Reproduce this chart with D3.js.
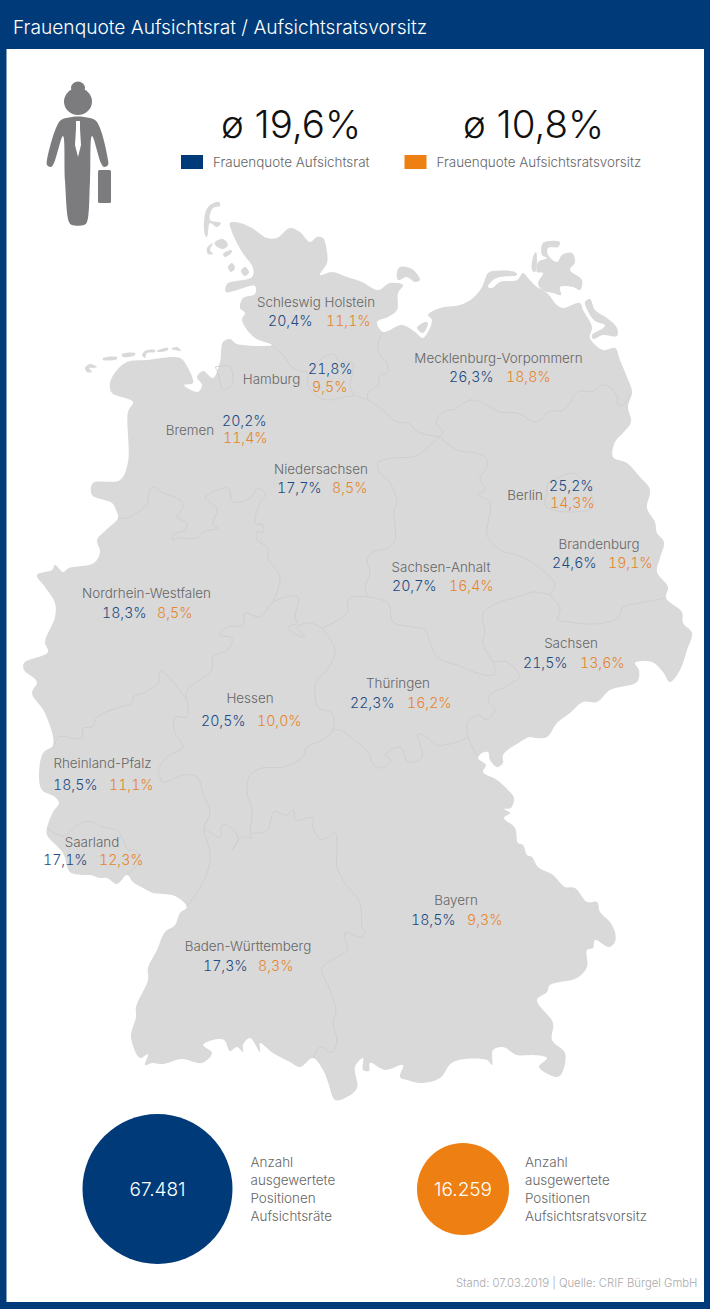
<!DOCTYPE html>
<html><head><meta charset="utf-8">
<style>html,body{margin:0;padding:0;background:#003a78}svg{display:block}
text{font-family:Inter,"Liberation Sans",sans-serif;font-weight:300}
text.val{font-feature-settings:"tnum" 1;font-variant-numeric:tabular-nums}</style>
<script src="https://cdnjs.cloudflare.com/ajax/libs/d3/7.8.5/d3.min.js"></script>
</head><body><svg id="c" width="710" height="1309"></svg>
<script>
// ---------- values ----------
const title = "Frauenquote Aufsichtsrat / Aufsichtsratsvorsitz";
const seriesNames = ["Frauenquote Aufsichtsrat","Frauenquote Aufsichtsratsvorsitz"];
const averages = [19.6,10.8];
const positionCounts = [67481,16259];
const positionLabels = [["Anzahl","ausgewertete","Positionen","Aufsichtsräte"],["Anzahl","ausgewertete","Positionen","Aufsichtsratsvorsitz"]];
const source = "Stand: 07.03.2019 | Quelle: CRIF Bürgel GmbH";
const states = ["Schleswig Holstein","Mecklenburg-Vorpommern","Hamburg","Bremen","Niedersachsen","Berlin","Brandenburg","Sachsen-Anhalt","Nordrhein-Westfalen","Sachsen","Hessen","Thüringen","Rheinland-Pfalz","Saarland","Baden-Württemberg","Bayern"];
const boardQuota = [20.4,26.3,21.8,20.2,17.7,25.2,24.6,20.7,18.3,21.5,20.5,22.3,18.5,17.1,17.3,18.5];
const chairQuota = [11.1,18.8,9.5,11.4,8.5,14.3,19.1,16.4,8.5,13.6,10.0,16.2,11.1,12.3,8.3,9.3];

// ---------- map geometry (traced outline, in map units) ----------
const mainland = [[230,223],[240,223],[252,228],[267,238],[277,238],[290,228],[300,232],[310,242],[317,237],[323,238],[327,252],[327,263],[320,275],[332,272],[347,277],[362,282],[378,290],[390,283],[403,285],[398,293],[397,310],[388,317],[377,322],[383,332],[402,325],[415,332],[423,338],[432,320],[428,315],[440,308],[460,305],[473,298],[482,287],[488,273],[493,271],[515,272],[517,275],[500,277],[493,280],[488,287],[492,288],[500,282],[517,280],[523,273],[528,278],[537,287],[547,293],[557,305],[563,308],[580,303],[583,310],[592,327],[590,338],[603,350],[615,348],[620,360],[627,377],[631,387],[632,393],[628,407],[631,422],[623,433],[615,442],[613,457],[627,463],[640,477],[649,487],[650,493],[647,508],[655,522],[657,533],[664,542],[660,558],[657,572],[668,587],[666,598],[682,612],[683,623],[692,633],[687,650],[680,670],[670,682],[663,672],[652,662],[635,663],[639,670],[637,682],[610,690],[597,702],[583,702],[570,713],[557,723],[547,737],[535,738],[530,737],[520,742],[503,755],[503,763],[497,767],[490,760],[488,752],[482,753],[478,758],[486,765],[483,772],[497,780],[510,792],[514,798],[511,808],[504,809],[510,813],[504,818],[515,828],[518,843],[523,845],[527,855],[532,857],[538,867],[553,875],[565,887],[575,888],[587,902],[597,902],[600,912],[610,922],[615,932],[615,942],[609,947],[595,940],[593,948],[587,950],[587,967],[577,978],[550,985],[547,992],[537,1000],[553,1023],[552,1040],[565,1053],[562,1073],[557,1077],[539,1067],[547,1058],[533,1055],[517,1055],[503,1047],[493,1050],[492,1065],[487,1060],[453,1062],[440,1078],[422,1083],[407,1080],[400,1077],[403,1065],[385,1070],[370,1063],[369,1071],[363,1070],[363,1058],[355,1067],[357,1088],[345,1098],[335,1100],[328,1082],[323,1070],[313,1058],[300,1067],[290,1062],[273,1053],[260,1043],[260,1052],[250,1038],[243,1045],[243,1052],[237,1047],[230,1051],[224,1040],[213,1040],[203,1045],[212,1053],[202,1063],[182,1059],[163,1064],[152,1063],[145,1065],[148,1054],[140,1058],[131,1037],[136,1017],[136,1007],[148,980],[148,968],[157,950],[165,932],[175,925],[180,913],[187,907],[175,896],[163,894],[153,893],[143,888],[133,882],[127,875],[117,884],[107,878],[100,878],[90,875],[82,875],[70,872],[63,853],[47,835],[47,828],[53,812],[59,803],[55,797],[42,790],[39,777],[43,753],[53,745],[45,713],[32,693],[37,682],[24,670],[24,663],[48,652],[45,642],[55,617],[55,603],[45,587],[37,575],[52,570],[55,565],[63,572],[69,568],[94,563],[100,552],[97,540],[106,530],[118,518],[116,510],[112,503],[92,495],[93,483],[120,480],[128,462],[128,412],[133,402],[112,393],[110,383],[117,370],[127,362],[147,360],[180,358],[188,368],[193,383],[184,385],[198,392],[202,385],[197,377],[203,371],[213,378],[220,362],[223,342],[230,339],[237,344],[272,345],[255,338],[245,327],[242,319],[245,313],[240,308],[243,298],[255,294],[255,286],[226,292],[227,284],[252,277],[253,268],[242,252],[232,232]];
const islands = [
 [[205,235],[204,222],[208,207],[219,202],[220,206],[213,208],[210,220],[221,223],[217,227],[210,223],[207,237]],
 [[215,242],[223,239],[228,245],[223,249],[215,245]],
 [[213,243],[207,248],[208,254],[213,254],[210,250]],
 [[223,254],[231,250],[232,252],[225,257]],
 [[228,267],[232,263],[235,268],[231,272]],
 [[241,271],[245,267],[249,272],[245,276]],
 [[85,368],[90,364],[97,367],[93,368],[89,368],[92,372],[87,372]],
 [[103,358],[117,357],[117,359],[103,360]],
 [[122,354],[135,353],[135,355],[123,357]],
 [[142,355],[145,351],[155,350],[155,352],[147,353],[145,358]],
 [[157,351],[168,348],[168,350],[158,352]],
 [[171,349],[177,347],[181,351],[175,350]],
 [[397,272],[400,267],[412,269],[420,280],[415,282],[407,277],[398,280]],
 [[417,328],[425,322],[428,323],[423,333]],
 [[532,270],[533,257],[536,252],[537,262],[535,272]],
 [[543,243],[560,242],[558,247],[548,248],[548,255],[557,262],[562,255],[572,253],[575,262],[570,270],[582,280],[580,290],[573,287],[560,287],[561,295],[553,293],[542,290],[538,283],[543,273],[537,272],[538,262],[547,258],[542,255]],
 [[585,302],[590,299],[595,310],[607,318],[617,328],[617,336],[603,335],[593,339],[592,335],[603,328],[605,325],[597,322],[592,318]]
];
const borders = [
 [[272,345],[283,355],[293,368],[307,372]],
 [[308,375],[317,362],[333,354],[340,362],[352,362],[353,372],[350,385],[353,395],[343,397],[327,400],[315,395],[308,385],[308,375]],
 [[383,332],[378,345],[380,355],[387,363],[387,373],[380,375],[378,385],[368,393],[368,400]],
 [[353,395],[368,400],[383,410],[397,422],[408,423],[418,432],[440,437]],
 [[440,437],[443,432],[436,423],[437,418],[448,410],[453,410],[470,400],[483,403],[500,412],[517,413],[530,420],[535,422],[543,418],[548,412],[563,410],[570,403],[577,392],[593,391],[602,385],[610,387],[617,397],[618,405],[623,405],[630,395]],
 [[440,437],[428,447],[423,452],[412,457],[393,458],[378,463],[380,473],[390,483],[397,503],[394,510],[395,540],[388,548],[372,552],[367,560],[370,573],[365,587],[368,597]],
 [[440,437],[457,450],[475,453],[486,458],[487,467],[480,478],[485,490],[478,495],[490,502],[488,523],[487,535],[500,550],[517,555],[533,563],[550,577],[555,585],[550,595]],
 [[550,595],[560,608],[558,620],[570,622],[587,624],[603,623],[618,618],[623,607],[640,603],[666,598]],
 [[550,595],[533,592],[517,597],[500,602],[483,613],[485,633],[483,643],[493,662]],
 [[368,597],[388,603],[393,622],[413,627],[425,630],[430,643],[438,658],[457,665],[477,673],[493,675],[495,670],[493,662]],
 [[493,662],[507,662],[520,677],[513,682],[503,688],[492,693],[488,700],[495,710],[485,720],[480,715],[468,722],[468,737],[478,757]],
 [[468,737],[457,742],[437,745],[428,738],[418,734],[422,757],[408,762],[400,747],[385,755],[391,760],[383,768],[372,763],[370,755],[352,738],[340,730],[333,730]],
 [[322,628],[335,650],[327,670],[316,682],[318,707],[332,713],[333,730],[322,740],[307,747],[303,757],[283,767],[262,768],[250,775],[247,793],[252,810],[250,832]],
 [[252,833],[267,831],[274,812],[287,815],[293,810],[296,820],[307,818],[313,818],[313,828],[322,840],[335,833],[337,843],[337,867],[345,883],[360,903],[362,927],[365,932],[362,937],[345,933],[347,950],[337,957],[322,968],[330,990],[336,1010],[333,1023],[337,1040],[332,1052],[320,1047],[313,1058]],
 [[204,828],[220,837],[222,825],[227,825],[238,838],[232,850],[242,837],[252,838],[250,832]],
 [[158,770],[163,782],[183,775],[197,777],[203,793],[210,813],[204,828],[210,853],[208,870],[197,893],[186,907]],
 [[187,700],[187,717],[175,717],[175,733],[183,747],[167,757],[158,770]],
 [[187,700],[177,687],[167,675],[160,671],[158,683],[143,693],[133,697],[132,703],[117,708],[97,717],[92,727],[83,728],[82,738],[58,737],[55,745]],
 [[187,700],[187,690],[212,670],[213,657],[228,650],[232,638],[220,635],[227,627],[243,625],[245,613],[260,617],[273,602],[298,597],[295,617],[297,623],[288,627],[297,635],[305,637],[297,627],[310,623],[322,628]],
 [[273,602],[280,577],[268,558],[268,548],[257,540],[257,532],[263,532],[263,525],[255,523],[260,503],[265,495],[258,488],[250,498],[233,502],[228,488],[205,498],[217,508],[213,525],[218,528],[203,532],[197,538],[178,538],[173,540],[173,535],[185,530],[187,523],[177,517],[183,507],[180,500],[163,493],[153,487],[148,497],[148,503],[127,518],[118,518]],
 [[322,628],[347,613],[348,600],[353,597],[368,597]],
 [[215,367],[230,367],[232,385],[223,390],[220,382],[218,373],[215,367]],
 [[547,493],[548,483],[560,477],[573,473],[583,480],[593,500],[592,508],[573,512],[553,510],[545,505],[547,493]],
 [[47,828],[63,836],[77,825],[90,821],[103,827],[117,830],[123,840],[128,850],[135,850],[140,860],[127,875]]
];

// ---------- icon geometry ----------
const figureBody = [[72,117],[84,117],[95,120],[100,128],[108,160],[108,165],[104,167],[101,163],[92,136],[90,181],[87,222],[84,225],[72,225],[69,222],[65,181],[63,136],[54,163],[51,167],[47,165],[47,160],[56,128],[61,120]];
const figureTie = [[76,121],[80,121],[80,129],[81,145],[78,157],[75,145],[76,129]];

// ---------- label placement ----------
const labelPlacement = [
 {n:[316,307],b:[268,326],o:[326,326]},{n:[498.5,363],b:[449,382],o:[506,382]},
 {n:[271.5,384],b:[308,374],o:[312,392]},{n:[190,435],b:[222,426],o:[223,443]},
 {n:[321,474],b:[277,493],o:[332,493]},{n:[525,500],b:[549,491],o:[550,508]},
 {n:[599,549],b:[552,568],o:[608,568]},{n:[441,572],b:[392,591],o:[449,591]},
 {n:[146.5,598],b:[102,618],o:[157,618]},{n:[571,648],b:[523,668],o:[580,668]},
 {n:[250,703],b:[201,726],o:[257,726]},{n:[398,688],b:[350,708],o:[407,708]},
 {n:[102.5,768],b:[53,790],o:[109,790]},{n:[92,847],b:[43,865],o:[99,865]},
 {n:[248,951],b:[203,971],o:[258,971]},{n:[456,905],b:[411,925],o:[467,925]}
];

const NAVY="#003a78", ORANGE="#ee7f12", LAND="#d9d9d9", LINE="#cbcbcb", GREY="#666", FIG="#7c7c7e";
const fmt = v => v.toFixed(1).replace(".",",")+"%";
const svg = d3.select("#c");
const closedShape = d3.line().curve(d3.curveCatmullRomClosed.alpha(.5));
const openShape = d3.line().curve(d3.curveCatmullRom.alpha(.5));
const straightShape = d3.line().curve(d3.curveLinearClosed);

svg.append("rect").attr("width",710).attr("height",1309).attr("fill",NAVY);
svg.append("rect").attr("x",6.5).attr("y",49).attr("width",697.5).attr("height",1253).attr("fill","#fff");
svg.append("text").attr("x",13).attr("y",33.5).attr("fill","#fff").attr("font-size",19.15).text(title);

// icon
svg.append("ellipse").attr("cx",78).attr("cy",88).attr("rx",7).attr("ry",6.5).attr("fill",FIG);
svg.append("ellipse").attr("cx",78).attr("cy",101.5).attr("rx",14).attr("ry",13.5).attr("fill",FIG);
svg.append("path").attr("fill",FIG).attr("d",closedShape(figureBody));
svg.append("path").attr("fill","#fff").attr("d",straightShape(figureTie));
svg.append("rect").attr("x",98).attr("y",170).attr("width",13).attr("height",33).attr("rx",1.5).attr("fill",FIG);

// averages + legend
const avgX=[291,533.5], swX=[181,404.5], legX=[213,436.5];
[NAVY,ORANGE].forEach((col,i)=>{
  svg.append("text").attr("x",avgX[i]).attr("y",138).attr("text-anchor","middle").attr("font-size",38.5).attr("fill","#111").text("ø "+fmt(averages[i]));
  svg.append("rect").attr("x",swX[i]).attr("y",155).attr("width",22).attr("height",14).attr("fill",col);
  svg.append("text").attr("x",legX[i]).attr("y",167).attr("font-size",13.45).attr("fill",GREY).text(seriesNames[i]);
});

// map
svg.append("g").attr("fill",LAND).selectAll("path").data([mainland,...islands]).join("path").attr("d",closedShape);
svg.append("g").attr("fill","none").attr("stroke",LINE).attr("stroke-width",.8).selectAll("path").data(borders).join("path").attr("d",openShape);

// state labels
const g = svg.append("g").selectAll("g").data(states).join("g");
g.append("text").attr("x",(d,i)=>labelPlacement[i].n[0]).attr("y",(d,i)=>labelPlacement[i].n[1])
 .attr("text-anchor","middle").attr("font-size",13.4).attr("fill",GREY).text(d=>d);
g.append("text").attr("class","val").attr("x",(d,i)=>labelPlacement[i].b[0]).attr("y",(d,i)=>labelPlacement[i].b[1])
 .attr("font-size",14.2).attr("fill","#1c4a82").text((d,i)=>fmt(boardQuota[i]));
g.append("text").attr("class","val").attr("x",(d,i)=>labelPlacement[i].o[0]).attr("y",(d,i)=>labelPlacement[i].o[1])
 .attr("font-size",14.2).attr("fill","#e5852c").text((d,i)=>fmt(chairQuota[i]));

// count circles
const rScale = d3.scalePow().exponent(.344).domain([16259,67481]).range([46,75]);
const cx=[157.5,463], txtX=[250.5,525];
positionCounts.forEach((v,i)=>{
  svg.append("circle").attr("cx",cx[i]).attr("cy",1189).attr("r",rScale(v)).attr("fill",i?ORANGE:NAVY);
  svg.append("text").attr("x",cx[i]).attr("y",1196).attr("text-anchor","middle").attr("font-size",19).attr("fill","#fff")
     .text(d3.format(",")(v).replace(",","."));
  positionLabels[i].forEach((t,j)=>svg.append("text").attr("x",txtX[i]).attr("y",1167+j*18).attr("font-size",13.45).attr("fill",GREY).text(t));
});
svg.append("text").attr("x",697.5).attr("y",1287).attr("text-anchor","end").attr("font-size",11.3).attr("fill","#aaa").text(source);
</script></body></html>
